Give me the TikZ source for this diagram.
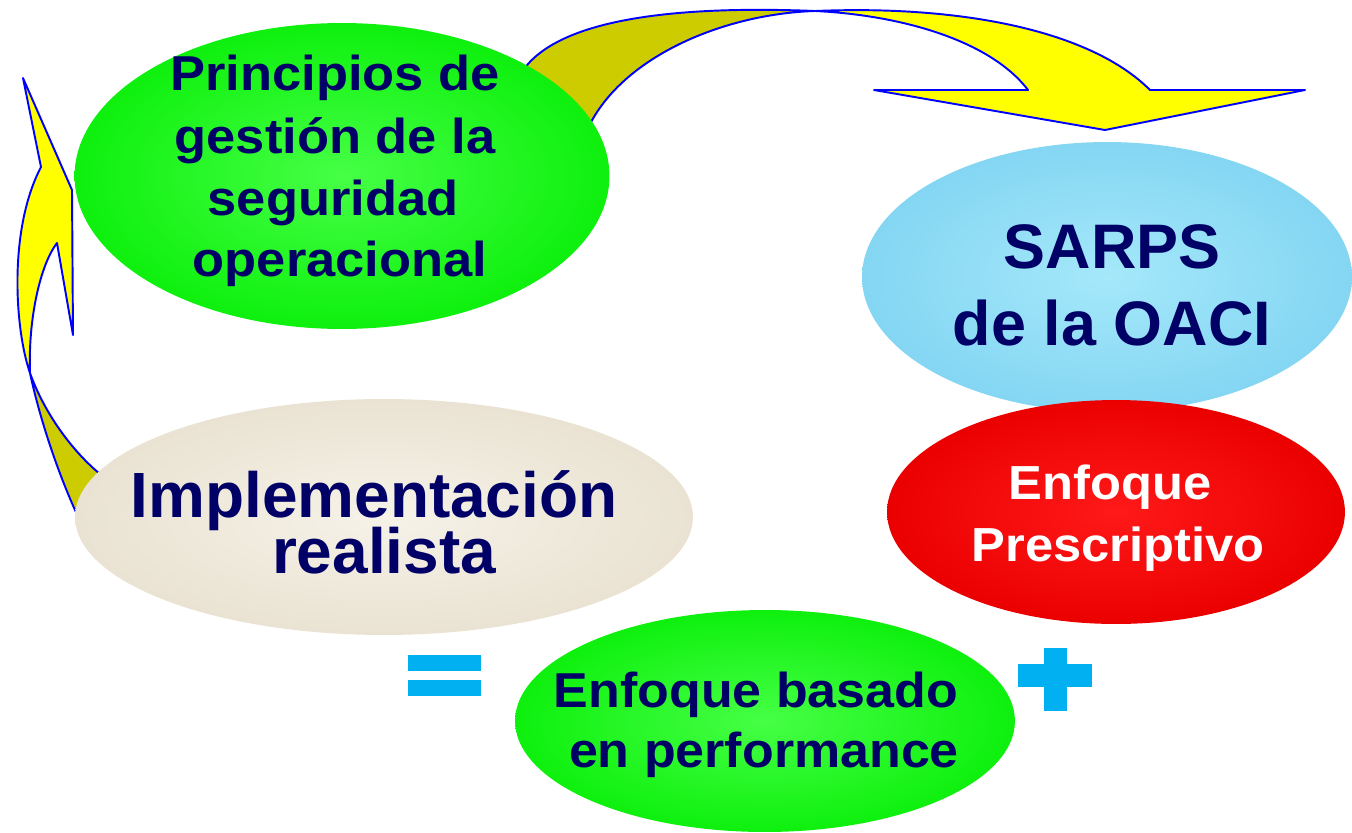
\documentclass[tikz,border=0pt]{standalone}
\usepackage{fontspec}
\setmainfont{Liberation Sans}
\usetikzlibrary{shapes.geometric}
\definecolor{navy}{RGB}{0,0,102}
\definecolor{arrowyellow}{RGB}{255,255,0}
\definecolor{arrowolive}{RGB}{204,204,0}
\definecolor{arrowblue}{RGB}{0,0,255}
\definecolor{signblue}{RGB}{0,176,240}
\tikzset{
  bubble/.style={ellipse, inner sep=0pt, draw=none, shading=radial},
  greenbubble/.style={bubble, inner color={rgb,255:red,70;green,255;blue,70}, outer color={rgb,255:red,14;green,240;blue,14}},
  bluebubble/.style={bubble, inner color={rgb,255:red,165;green,232;blue,250}, outer color={rgb,255:red,132;green,214;blue,243}},
  redbubble/.style={bubble, inner color={rgb,255:red,255;green,25;blue,25}, outer color={rgb,255:red,235;green,0;blue,0}},
  beigebubble/.style={bubble, inner color={rgb,255:red,246;green,242;blue,232}, outer color={rgb,255:red,234;green,227;blue,211}},
  yellowpart/.style={fill=arrowyellow, draw=arrowblue, line width=1.1pt, line join=round},
  olivepart/.style={fill=arrowolive, draw=arrowblue, line width=1.1pt, line join=round},
  txt/.style={anchor=base, inner sep=0pt, text=navy, font=\bfseries},
  sign/.style={fill=signblue, draw=none}
}
\begin{document}
\begin{tikzpicture}[x=0.02cm, y=-0.02cm]
\useasboundingbox (0,0) rectangle (1352,832);
% ---- top curved arrow
\path[olivepart] (520,75) .. controls (555,15) and (690,6) .. (815,11)
   .. controls (720,14) and (615,60) .. (585,135) -- cycle;
\path[yellowpart] (815,11) .. controls (960,5) and (1090,30) .. (1150,90)
   -- (1305,90) -- (1105,130) -- (874,90) -- (1028,90)
   .. controls (990,40) and (900,15) .. (815,11) -- cycle;
% ---- left curved arrow
\path[olivepart] (30,373) .. controls (40,420) and (60,480) .. (82,525)
   -- (105,478) .. controls (75,455) and (45,415) .. (30,373) -- cycle;
\path[yellowpart] (41,167) -- (23,78) -- (72,190) -- (73,335) -- (57,243)
   .. controls (40,265) and (28,320) .. (30,373)
   .. controls (15,330) and (8,230) .. (41,167) -- cycle;
% ---- ellipses
\node[greenbubble, minimum width=10.7cm, minimum height=6.12cm] (princ) at (342,176) {};
\node[bluebubble, minimum width=9.8cm, minimum height=5.4cm] (sarps) at (1107,277) {};
\node[redbubble, minimum width=9.16cm, minimum height=4.48cm] (presc) at (1116,512) {};
\node[beigebubble, minimum width=12.36cm, minimum height=4.72cm] (impl) at (384,517) {};
\node[greenbubble, minimum width=10cm, minimum height=4.44cm] (perf) at (765,721) {};
% ---- texts
\begin{scope}[every node/.append style={txt}]
\node[xscale=1.07, font=\bfseries\fontsize{27.9}{32}\selectfont] (p1) at (335,90) {Principios de};
\node[xscale=1.07, font=\bfseries\fontsize{27.9}{32}\selectfont] (p2) at (335,153) {gestión de la};
\node[xscale=1.07, font=\bfseries\fontsize{27.9}{32}\selectfont] (p3) at (333,215) {seguridad};
\node[xscale=1.07, font=\bfseries\fontsize{27.9}{32}\selectfont] (p4) at (340,276) {operacional};
\node[font=\bfseries\fontsize{35.8}{40}\selectfont] (s1) at (1112,268) {SARPS};
\node[font=\bfseries\fontsize{35.8}{40}\selectfont] (s2) at (1112,345) {de la OACI};
\node[xscale=1.06, text=white, font=\bfseries\fontsize{27.2}{31}\selectfont] (r1) at (1110,499) {Enfoque};
\node[xscale=1.06, text=white, font=\bfseries\fontsize{27.2}{31}\selectfont] (r2) at (1118,561) {Prescriptivo};
\node[font=\bfseries\fontsize{36.4}{40}\selectfont] (i1) at (374,517) {Implementación};
\node[font=\bfseries\fontsize{36.4}{40}\selectfont] (i2) at (384,573) {realista};
\node[xscale=1.06, font=\bfseries\fontsize{27.9}{32}\selectfont] (e1) at (756,707) {Enfoque basado};
\node[xscale=1.06, font=\bfseries\fontsize{27.9}{32}\selectfont] (e2) at (764,767) {en performance};
\end{scope}
% ---- equals and plus signs
\fill[sign] (408,655) rectangle (481,671);
\fill[sign] (408,680) rectangle (481,696);
\fill[sign] (1044,648) rectangle (1067,711);
\fill[sign] (1018,664) rectangle (1092,687);
\end{tikzpicture}
\end{document}
